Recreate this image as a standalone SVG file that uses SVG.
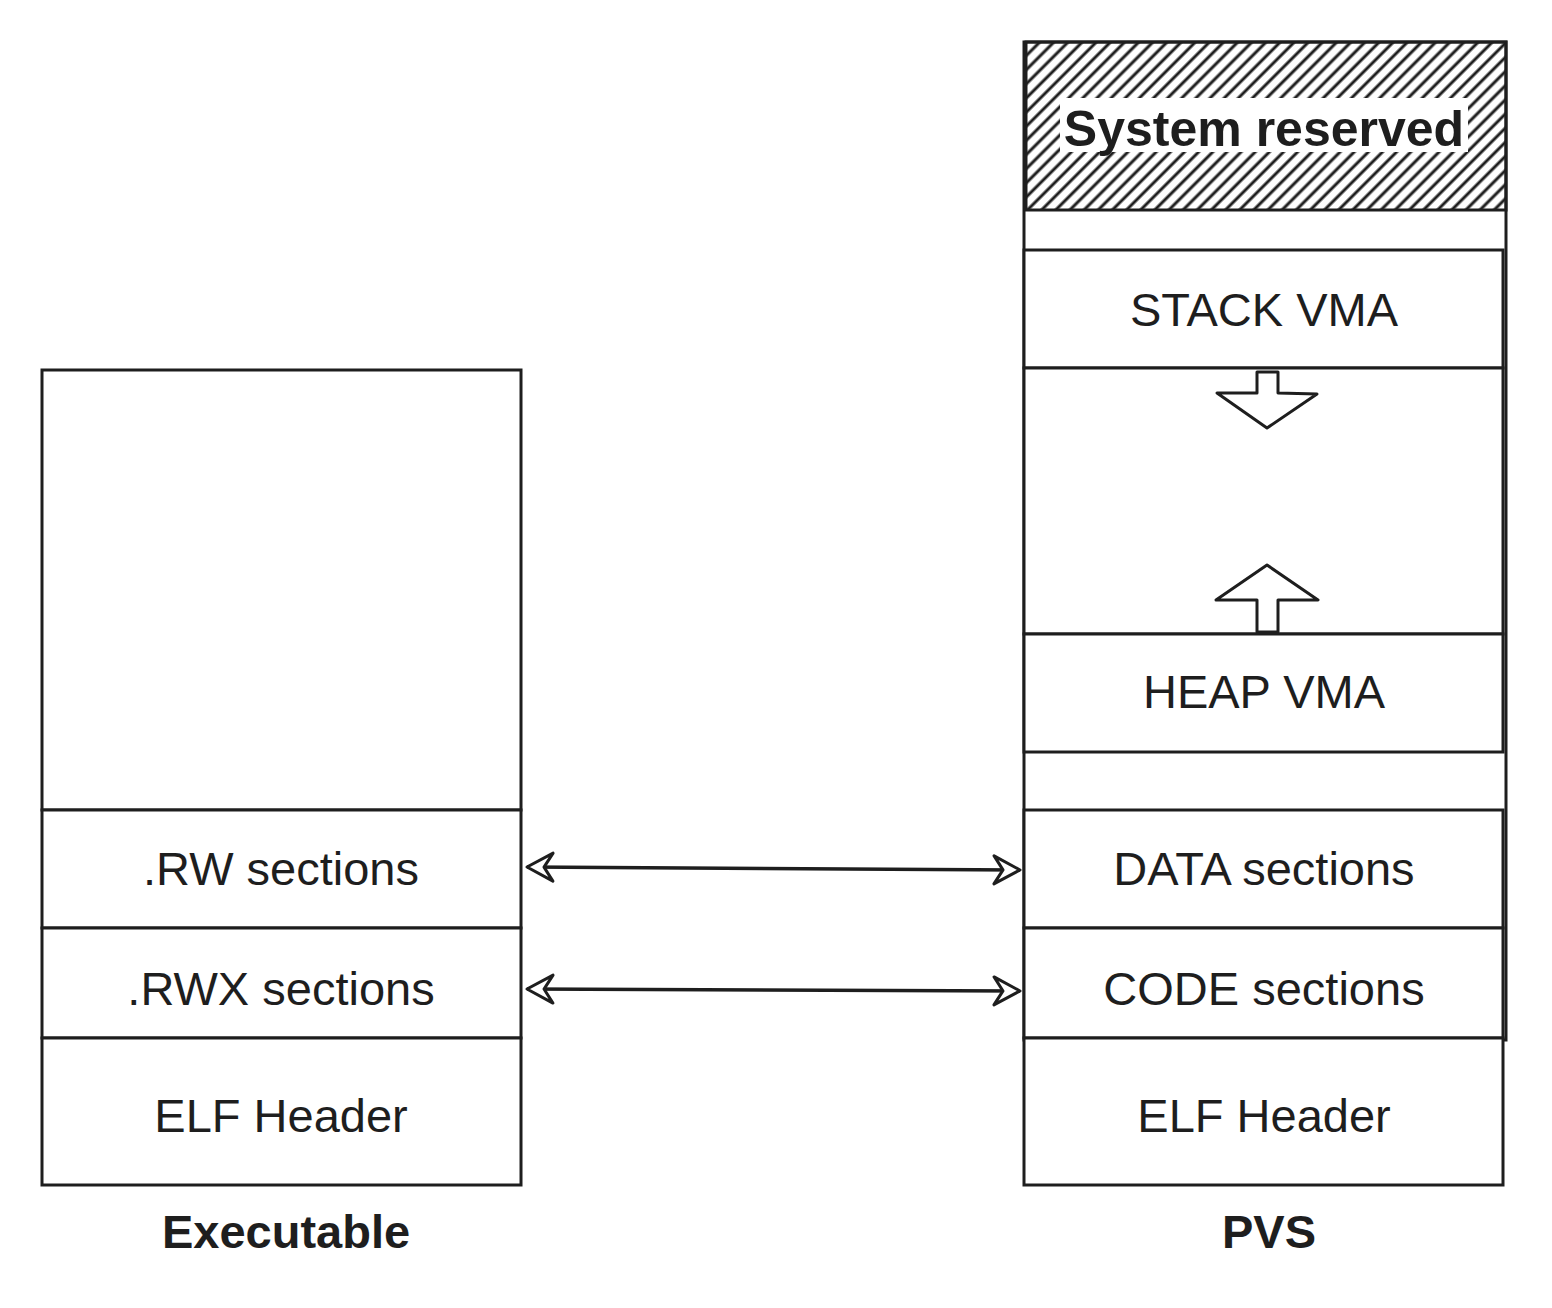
<svg xmlns="http://www.w3.org/2000/svg" width="1552" height="1308" viewBox="0 0 1552 1308">
<style>
.box{fill:#fff;stroke:#1e1e1e;stroke-width:3}
.ln{fill:none;stroke:#1e1e1e;stroke-width:3}
.t{font-family:"Liberation Sans",Arial,sans-serif;font-size:47px;fill:#1e1e1e;text-anchor:middle}
.b{font-weight:bold}
.conn{fill:none;stroke:#1e1e1e;stroke-width:3.5;marker-start:url(#ah);marker-end:url(#ah)}
</style>
<defs>
<pattern id="hatch" width="10" height="10" patternUnits="userSpaceOnUse" patternTransform="rotate(45)">
<line x1="5" y1="0" x2="5" y2="10" stroke="#1e1e1e" stroke-width="3"/>
</pattern>
<marker id="ah" viewBox="0 0 32 32" refX="29" refY="16" markerWidth="32" markerHeight="32" markerUnits="userSpaceOnUse" orient="auto-start-reverse">
<path d="M3,2 L29,16 L3,30 L12,16 Z" fill="#fff" stroke="#1e1e1e" stroke-width="3" stroke-linejoin="round"/>
</marker>
</defs>
<rect width="1552" height="1308" fill="#fff"/>

<g id="executable">
<rect id="exe-empty" class="box" x="42" y="370" width="479" height="440"/>
<g id="exe-rw"><rect class="box" x="42" y="810" width="479" height="118"/><text class="t" x="281" y="885">.RW sections</text></g>
<g id="exe-rwx"><rect class="box" x="42" y="928" width="479" height="110"/><text class="t" x="281" y="1005">.RWX sections</text></g>
<g id="exe-elf"><rect class="box" x="42" y="1038" width="479" height="147"/><text class="t" x="281" y="1132">ELF Header</text></g>
<text class="t b" x="286" y="1248">Executable</text>
</g>

<g id="pvs">
<rect id="pvs-outer" class="box" x="1024" y="42" width="482" height="998"/>
<g id="sys-reserved">
<rect x="1026" y="42" width="480" height="168" fill="url(#hatch)" stroke="#1e1e1e" stroke-width="3"/>
<rect x="1060" y="98" width="408" height="54" fill="#fff"/>
<text class="t b" x="1264" y="146" font-size="50" style="font-size:50px">System reserved</text>
</g>
<g id="stack"><rect class="box" x="1024" y="250" width="479" height="118"/><text class="t" x="1264" y="326">STACK VMA</text></g>
<g id="gap"><rect class="box" x="1024" y="368" width="479" height="266"/></g>
<path id="down-arrow" class="box" d="M1257,372 L1278,372 L1278,393 L1317,394 L1267,428 L1217,393 L1257,393 Z" stroke-linejoin="round"/>
<path id="up-arrow" class="box" d="M1267,565 L1318,600 L1278,600 L1278,632 L1257,632 L1257,600 L1216,600 Z" stroke-linejoin="round"/>
<g id="heap"><rect class="box" x="1024" y="634" width="479" height="118"/><text class="t" x="1264" y="708">HEAP VMA</text></g>
<g id="data"><rect class="box" x="1024" y="810" width="479" height="118"/><text class="t" x="1264" y="885">DATA sections</text></g>
<g id="code"><rect class="box" x="1024" y="928" width="479" height="110"/><text class="t" x="1264" y="1005">CODE sections</text></g>
<g id="pvs-elf"><rect class="box" x="1024" y="1038" width="479" height="147"/><text class="t" x="1264" y="1132">ELF Header</text></g>
<text class="t b" x="1269" y="1248">PVS</text>
</g>

<g id="connectors">
<path class="conn" d="M527,867 L1020,870"/>
<path class="conn" d="M527,989 L1020,991"/>
</g>
</svg>
